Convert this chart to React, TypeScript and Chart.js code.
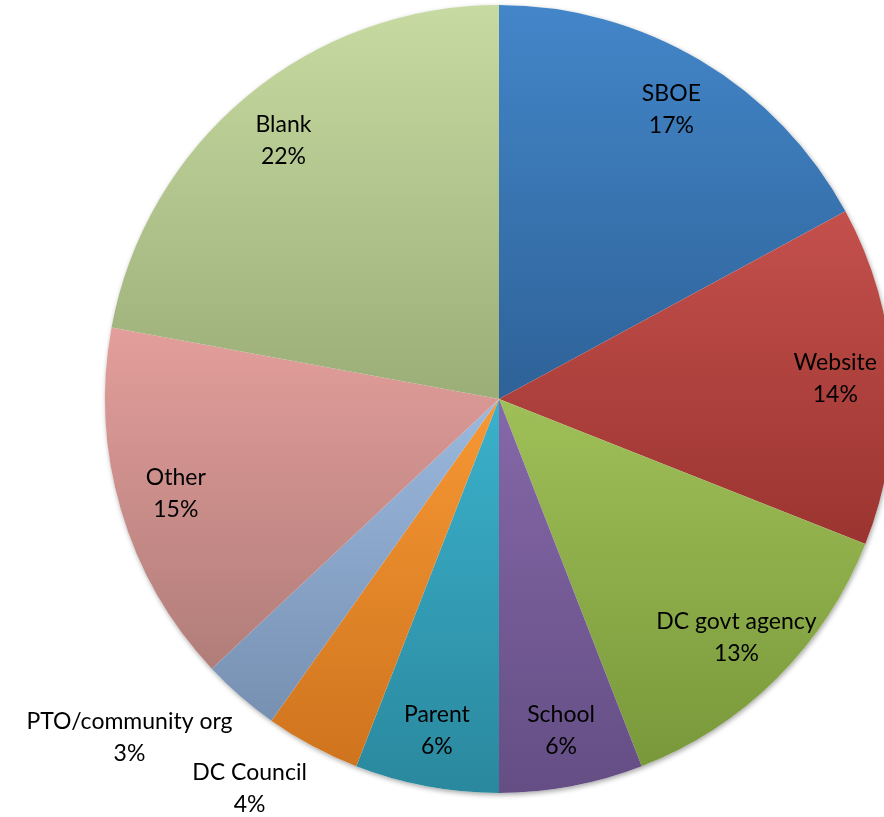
import React, { useEffect, useRef } from "react";
import { Chart, registerables } from "chart.js";

Chart.register(...registerables);

const categories = [
  "SBOE",
  "Website",
  "DC govt agency",
  "School",
  "Parent",
  "DC Council",
  "PTO/community org",
  "Other",
  "Blank",
];
const shares = [17.1, 13.9, 13.1, 5.9, 5.9, 3.9, 3.2, 14.9, 22.1];
const percentLabels = ["17%", "14%", "13%", "6%", "6%", "4%", "3%", "15%", "22%"];

const topColors = [
  "#4386c9",
  "#c4504c",
  "#9fbf58",
  "#8568a8",
  "#3bb1cb",
  "#f79834",
  "#9bb9de",
  "#e39e9b",
  "#c6daa1",
];
const bottomColors = [
  "#2e6298",
  "#9b3430",
  "#79983a",
  "#644e84",
  "#2a889e",
  "#cf741e",
  "#7790b2",
  "#b17d79",
  "#9cae78",
];

const FONT = "23px Lato, 'Open Sans', sans-serif";

const gradientPlugin = {
  id: "sliceGradient",
  beforeDatasetsDraw(chart: any) {
    const ctx = chart.ctx;
    const meta = chart.getDatasetMeta(0);
    const first = meta.data[0];
    if (!first) return;
    ctx.save();
    ctx.beginPath();
    ctx.arc(first.x, first.y, first.outerRadius, 0, Math.PI * 2);
    ctx.shadowColor = "rgba(0,0,0,0.35)";
    ctx.shadowBlur = 5;
    ctx.shadowOffsetX = 1;
    ctx.shadowOffsetY = 2;
    ctx.fillStyle = "#ffffff";
    ctx.fill();
    ctx.restore();
    meta.data.forEach((arc: any, i: number) => {
      const { x, y, startAngle, endAngle, outerRadius } = arc;
      const ys = [y, y + outerRadius * Math.sin(startAngle), y + outerRadius * Math.sin(endAngle)];
      const checks = [-Math.PI / 2, Math.PI / 2, (3 * Math.PI) / 2, (5 * Math.PI) / 2];
      checks.forEach((a) => {
        if (a >= startAngle && a <= endAngle) ys.push(y + outerRadius * Math.sin(a));
      });
      const top = Math.min(...ys);
      const bottom = Math.max(...ys);
      const g = ctx.createLinearGradient(0, top, 0, bottom);
      g.addColorStop(0, topColors[i]);
      g.addColorStop(1, bottomColors[i]);
      arc.options.backgroundColor = g;
    });
  },
};

const labelPlugin = {
  id: "sliceLabels",
  afterDatasetsDraw(chart: any) {
    const ctx = chart.ctx;
    const meta = chart.getDatasetMeta(0);
    ctx.save();
    ctx.font = FONT;
    ctx.fillStyle = "#000000";
    ctx.textBaseline = "middle";
    ctx.textAlign = "center";
    const lineH = 32;
    meta.data.forEach((arc: any, i: number) => {
      const { x, y, startAngle, endAngle, outerRadius } = arc;
      const mid = (startAngle + endAngle) / 2;
      const lines = [categories[i], percentLabels[i]];
      if (shares[i] >= 5) {
        const r = outerRadius * 0.855;
        const lx = x + r * Math.cos(mid);
        const ly = y + r * Math.sin(mid);
        lines.forEach((t, k) => ctx.fillText(t, lx, ly + (k - 0.5) * lineH));
      } else {
        const r = outerRadius * 1.03;
        const px = x + r * Math.cos(mid);
        const py = y + r * Math.sin(mid);
        const w = Math.max(...lines.map((t) => ctx.measureText(t).width));
        const h = lineH * lines.length;
        const cxB = Math.cos(mid) < 0 ? px - w / 2 : px + w / 2;
        const topB = Math.sin(mid) > 0 ? py : py - h;
        lines.forEach((t, k) => ctx.fillText(t, cxB, topB + lineH * (k + 0.5)));
      }
    });
    ctx.restore();
  },
};

export default function App() {
  const ref = useRef<HTMLCanvasElement | null>(null);
  useEffect(() => {
    if (!ref.current) return;
    const chart = new Chart(ref.current, {
      type: "pie",
      data: {
        labels: categories,
        datasets: [
          {
            data: shares,
            backgroundColor: topColors,
            borderWidth: 0,
          },
        ],
      },
      options: {
        responsive: false,
        animation: false,
        layout: { padding: { left: 105, top: 5, right: 107, bottom: 37 } },
        plugins: {
          legend: { display: false },
          tooltip: { enabled: false },
        },
      },
      plugins: [gradientPlugin, labelPlugin],
    });
    return () => chart.destroy();
  }, []);
  return (
    <div
      style={{
        position: "absolute",
        left: 0,
        top: 0,
        width: 884,
        height: 817,
        overflow: "hidden",
        background: "#ffffff",
      }}
    >
      <canvas ref={ref} width={1000} height={830} style={{ display: "block" }} />
    </div>
  );
}
